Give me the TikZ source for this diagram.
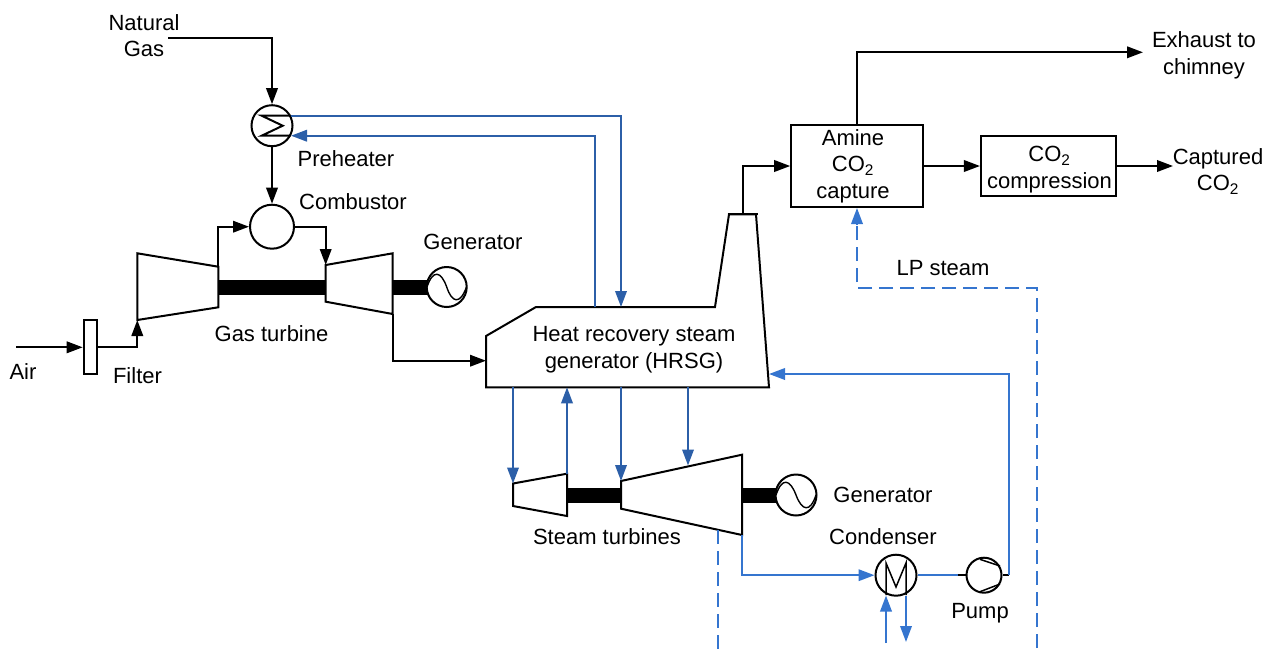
\documentclass[tikz,border=0pt]{standalone}
\usepackage{fontspec}
\setmainfont{Liberation Sans}
\usetikzlibrary{arrows.meta}
\definecolor{bluedark}{HTML}{2C5FA8}
\definecolor{bluelight}{HTML}{3575CF}
\tikzset{
  x=1pt,y=-1pt,
  every node/.style={font=\fontsize{22}{26.5}\selectfont,align=center},
  line/.style={draw=black,line width=2pt,line join=miter},
  arr/.style={line,-{Triangle[length=16pt,width=11.5pt]}},
  darr/.style={draw=bluedark,line width=2pt,-{Triangle[length=16pt,width=11.5pt]}},
  larr/.style={draw=bluelight,line width=2pt,-{Triangle[length=16pt,width=11.5pt]}},
  lline/.style={draw=bluelight,line width=2pt},
  ldash/.style={draw=bluelight,line width=2pt,dash pattern=on 14pt off 7pt},
  unit/.style={circle,draw=black,fill=white,line width=2pt,inner sep=0pt},
  boxn/.style={rectangle,draw=black,fill=white,line width=2pt,inner sep=0pt},
  shaft/.style={fill=black},
  body/.style={draw=black,fill=white,line width=2pt,line join=miter},
  lbl/.style={inner sep=0pt},
}
\begin{document}
\begin{tikzpicture}
\useasboundingbox (0,0) rectangle (1274,654);
% named points
\coordinate (ngstart) at (168,38.2);
\coordinate (ngcorner) at (272,38.2);
\coordinate (airstart) at (16,347.3);
\coordinate (comp1) at (137.3,253.3);
\coordinate (comp2) at (218.3,266.7);
\coordinate (comp3) at (218.3,307.3);
\coordinate (comp4) at (137.3,320);
\coordinate (tur1) at (325.7,265);
\coordinate (tur2) at (392.7,253.3);
\coordinate (tur3) at (392.7,314);
\coordinate (tur4) at (325.7,301.7);
\coordinate (hrsgin) at (486,360.7);
\coordinate (stackL) at (729,214.3);
\coordinate (stackR) at (756,214.3);
\coordinate (stackC) at (743,214.3);
\coordinate (st1) at (513,483.5);
\coordinate (st2) at (567,473.7);
\coordinate (st3) at (567,516);
\coordinate (st4) at (513,506);
\coordinate (lt1) at (621,481);
\coordinate (lt2) at (742,454.7);
\coordinate (lt3) at (742,535);
\coordinate (lt4) at (621,508.7);
\coordinate (ltmid) at (688,465.5);
\coordinate (ltdash) at (718,530);
\coordinate (dashend) at (718,654);
\coordinate (lpend) at (1037,648);
\coordinate (lpcorner) at (1037,288);
\coordinate (lpturn) at (857,288);
\coordinate (lptip) at (857,224);
\coordinate (hrsgret) at (769,374);
\coordinate (cwin) at (886,643);
\coordinate (cwout) at (906,642);

% bodies
\draw[body] (comp1)--(comp2)--(comp3)--(comp4)--cycle;
\draw[body] (tur1)--(tur2)--(tur3)--(tur4)--cycle;
\draw[body] (486,336)--(536,307)--(715,307)--(stackL)--(stackR)--(769,387.3)--(486,387.3)--cycle;
\draw[line] (727.5,214.3)--(757.5,214.3);
\draw[body] (st1)--(st2)--(st3)--(st4)--cycle;
\draw[body] (lt1)--(lt2)--(lt3)--(lt4)--cycle;
% shafts
\fill[shaft] (218.3,279.5) rectangle (325.7,294.5);
\fill[shaft] (392.7,279.5) rectangle (428,294.5);
\fill[shaft] (567,487.5) rectangle (621,502.5);
\fill[shaft] (742,487.5) rectangle (778,502.5);

% nodes
\node[boxn,minimum width=13.6pt,minimum height=54pt] (filter) at (90.5,347.3) {};
\node[unit,minimum size=41pt] (pre) at (272,125.7) {};
\node[unit,minimum size=44pt] (comb) at (272,226.7) {};
\node[unit,minimum size=40pt] (gen1) at (446.7,287) {};
\node[unit,minimum size=41pt] (gen2) at (796,495) {};
\node[unit,minimum size=41pt] (cond) at (896,575.2) {};
\node[unit,minimum size=35pt] (pump) at (984,575.2) {};
\node[boxn,minimum width=131.6pt,minimum height=82pt] (amine) at (857,166) {};
\node[boxn,minimum width=135.5pt,minimum height=60pt] (compr) at (1048.7,166) {};

% symbols in nodes
\draw[line] (290.7,115.7)--(261.7,115.7)--(282.7,125.7)--(261.7,135.7)--(290.7,135.7);
\draw[line,line width=1.4pt] (427,287) .. controls (433,269) and (441,271) .. (446.7,287) .. controls (452,303) and (460,305) .. (466.5,287);
\draw[line,line width=1.4pt] (776,495) .. controls (782,477) and (790,479) .. (796,495) .. controls (802,511) and (810,513) .. (816,495);
\draw[line,line width=1.5pt] (886,595)--(886,563)--(896,587)--(906,563)--(906,595);
\draw[line,line width=1.5pt] (980,559.3) -- (1000,566);
\draw[line,line width=1.5pt] (980,591.7) -- (1000,584);

% black connectors
\draw[arr] (ngstart)--(ngcorner)--(pre.north);
\draw[arr] (pre.south)--(comb.north);
\draw[arr] (airstart)--(filter.west);
\draw[arr] (filter.east)--(comp4|-filter.east)--(comp4);
\draw[arr] (comp2)--(comp2|-comb.west)--(comb.west);
\draw[arr] (comb.east)--(tur1|-comb.east)--(tur1);
\draw[arr] (tur3)--(tur3|-hrsgin)--(hrsgin);
\draw[arr] (stackC)--(stackC|-amine.west)--(amine.west);
\draw[arr] (amine.east)--(compr.west);
\coordinate (exh) at (1143,52.3);
\coordinate (capt) at (1173,166);
\draw[arr] (amine.north)--(amine.north|-exh)--(exh);
\draw[arr] (compr.east)--(capt);

% blue connectors
\coordinate (preA) at (290.7,115.7);
\coordinate (preB) at (291,135.7);
\coordinate (hA) at (621,307);
\coordinate (hB) at (595,307);
\draw[darr] (preA)--(hA|-preA)--(hA);
\draw[darr] (hB)--(hB|-preB)--(preB);
\draw[darr] (513,387.3)--(st1);
\draw[darr] (st2)--(567,387.3);
\draw[darr] (621,387.3)--(lt1);
\draw[darr] (688,387.3)--(ltmid);
\draw[larr] (lt3)--(lt3|-cond.west)--(cond.west);
\draw[lline] (cond.east)--(958,575.2);
\draw[line] (958,575.2)--(pump.west);
\draw[line] (pump.east)--(1009,575.2);
\draw[larr] (1009,575.2)--(1009,374)--(hrsgret);
\draw[larr] (cwin)--(886,595.5);
\draw[larr] (906,595.5)--(cwout);
\draw[ldash] (ltdash)--(dashend);
\draw[ldash] (lpend)--(lpcorner)--(lpturn)--(lptip);
\draw[larr] (lptip)--(amine.south);

% labels
\node[lbl] (tNG) at (144,35.5) {Natural\\Gas};
\node[lbl] (tPre) at (346,158.5) {Preheater};
\node[lbl] (tComb) at (353,201.5) {Combustor};
\node[lbl] (tGen1) at (473,241.5) {Generator};
\node[lbl] (tGT) at (271.5,333.5) {Gas turbine};
\node[lbl] (tAir) at (23,371.5) {Air};
\node[lbl] (tFil) at (137.5,375.5) {Filter};
\node[lbl] (tHRSG) at (634,349.5) {Heat recovery steam\\generator (HRSG)};
\node[lbl] (tST) at (607,536.5) {Steam turbines};
\node[lbl] (tGen2) at (883,494.5) {Generator};
\node[lbl] (tCond) at (883,536.5) {Condenser};
\node[lbl] (tPump) at (980,613) {Pump};
\node[lbl] (tLP) at (943,268.5) {LP steam};
\node[lbl] (tEx) at (1204,55.5) {Exhaust to\\chimney};
\node[lbl] (tCap) at (1218,171.5) {Captured\\CO\textsubscript{2}};
\node[lbl] (tAm) at (853,166) {Amine\\CO\textsubscript{2}\\capture};
\node[lbl] (tCo) at (1049.5,169.5) {CO\textsubscript{2}\\compression};
\end{tikzpicture}
\end{document}
